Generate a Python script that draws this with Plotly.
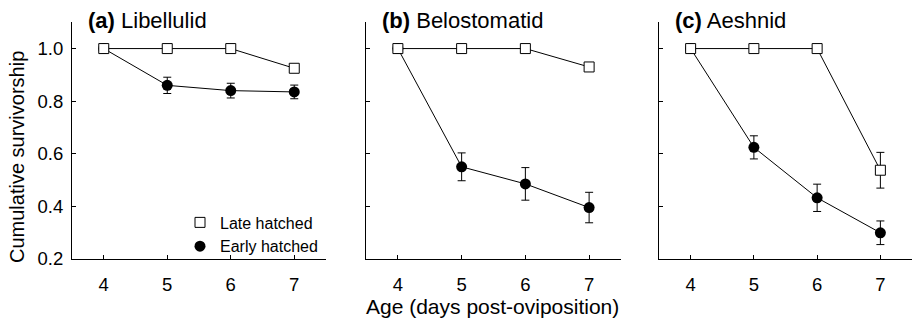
import plotly.graph_objects as go

days = [4, 5, 6, 7]
day_ticks = [4, 5, 6, 7]
y_ticks = [0.2, 0.4, 0.6, 0.8, 1.0]
y_tick_labels = ["0.2", "0.4", "0.6", "0.8", "1.0"]

panel_titles = ["<b>(a)</b> Libellulid", "<b>(b)</b> Belostomatid", "<b>(c)</b> Aeshnid"]

late_a = [1.0, 1.0, 1.0, 0.925]
late_err_a = [None, None, None, None]
early_a = [1.0, 0.86, 0.84, 0.835]
early_err_a = [None, 0.031, 0.028, 0.026]

late_b = [1.0, 1.0, 1.0, 0.93]
late_err_b = [None, None, None, None]
early_b = [1.0, 0.55, 0.485, 0.395]
early_err_b = [None, 0.053, 0.062, 0.058]

late_c = [1.0, 1.0, 1.0, 0.537]
late_err_c = [None, None, None, 0.068]
early_c = [1.0, 0.624, 0.432, 0.299]
early_err_c = [None, 0.044, 0.052, 0.045]

late_all = [late_a, late_b, late_c]
late_err_all = [late_err_a, late_err_b, late_err_c]
early_all = [early_a, early_b, early_c]
early_err_all = [early_err_a, early_err_b, early_err_c]

W, H = 914, 325
FONT = "Liberation Sans, Arial, Helvetica, sans-serif"

# panel positions in pixels
x_dom_px = [(72, 326), (366, 621), (659, 912)]
y_top_px, y_bot_px = 23, 267

fig = go.Figure()

for i in range(3):
    xa = "x" if i == 0 else f"x{i+1}"
    ya = "y" if i == 0 else f"y{i+1}"
    fig.add_trace(go.Scatter(
        x=days, y=early_all[i], mode="lines+markers",
        line=dict(color="black", width=1),
        marker=dict(symbol="circle", size=11, color="black"),
        error_y=dict(type="data", array=early_err_all[i], visible=True,
                     color="black", thickness=1, width=4),
        xaxis=xa, yaxis=ya, showlegend=False, cliponaxis=False))
    fig.add_trace(go.Scatter(
        x=days, y=late_all[i], mode="lines+markers",
        line=dict(color="black", width=1),
        marker=dict(symbol="square", size=10, color="white",
                    line=dict(color="black", width=1)),
        error_y=dict(type="data", array=late_err_all[i], visible=True,
                     color="black", thickness=1, width=4),
        xaxis=xa, yaxis=ya, showlegend=False, cliponaxis=False))

# legend-only traces
fig.add_trace(go.Scatter(x=[None], y=[None], mode="markers", name="Late hatched",
                         marker=dict(symbol="square", size=10, color="white",
                                     line=dict(color="black", width=1))))
fig.add_trace(go.Scatter(x=[None], y=[None], mode="markers", name="Early hatched",
                         marker=dict(symbol="circle", size=11, color="black")))

axis_common = dict(showline=True, linecolor="black", linewidth=1, ticks="inside",
                   ticklen=4, tickcolor="black", tickwidth=1, showgrid=False,
                   zeroline=False, mirror=False,
                   tickfont=dict(family=FONT, size=18.5, color="black"))

layout = dict(width=W, height=H, margin=dict(l=0, r=0, t=0, b=0),
              paper_bgcolor="white", plot_bgcolor="white",
              font=dict(family=FONT, color="black"))

ydom = [1 - y_bot_px / H, 1 - y_top_px / H]
annotations = []
for i in range(3):
    sx = "" if i == 0 else str(i + 1)
    x0, x1 = x_dom_px[i]
    layout[f"xaxis{sx}"] = dict(axis_common, domain=[x0 / W, x1 / W], range=[3.5, 7.5],
                                tickvals=day_ticks, anchor=f"y{sx}",
                                ticklabelstandoff=9)
    layout[f"yaxis{sx}"] = dict(axis_common, domain=ydom, range=[0.2, 1.1],
                                tickvals=y_ticks, ticktext=y_tick_labels,
                                showticklabels=(i == 0), anchor=f"x{sx}",
                                ticklabelstandoff=4)
    annotations.append(dict(text=panel_titles[i], xref="paper", yref="paper",
                            x=(x0 + 14) / W, y=1 - 21 / H, xanchor="left",
                            yanchor="middle", showarrow=False,
                            font=dict(family=FONT, size=22, color="black")))

annotations.append(dict(text="Cumulative survivorship", xref="paper", yref="paper",
                        x=17 / W, y=1 - 162 / H, textangle=-90, xanchor="center",
                        yanchor="middle", showarrow=False,
                        font=dict(family=FONT, size=20, color="black")))
annotations.append(dict(text="Age (days post-oviposition)", xref="paper", yref="paper",
                        x=493 / W, y=1 - 316 / H, xanchor="center", yanchor="middle",
                        showarrow=False, font=dict(family=FONT, size=21, color="black")))

layout["annotations"] = annotations
layout["legend"] = dict(x=180 / W, y=1 - 212 / H, xanchor="left", yanchor="top",
                        bgcolor="rgba(0,0,0,0)", font=dict(family=FONT, size=16, color="black"),
                        itemwidth=30, tracegroupgap=0)
fig.update_layout(**layout)

fig.write_html("out.html")
